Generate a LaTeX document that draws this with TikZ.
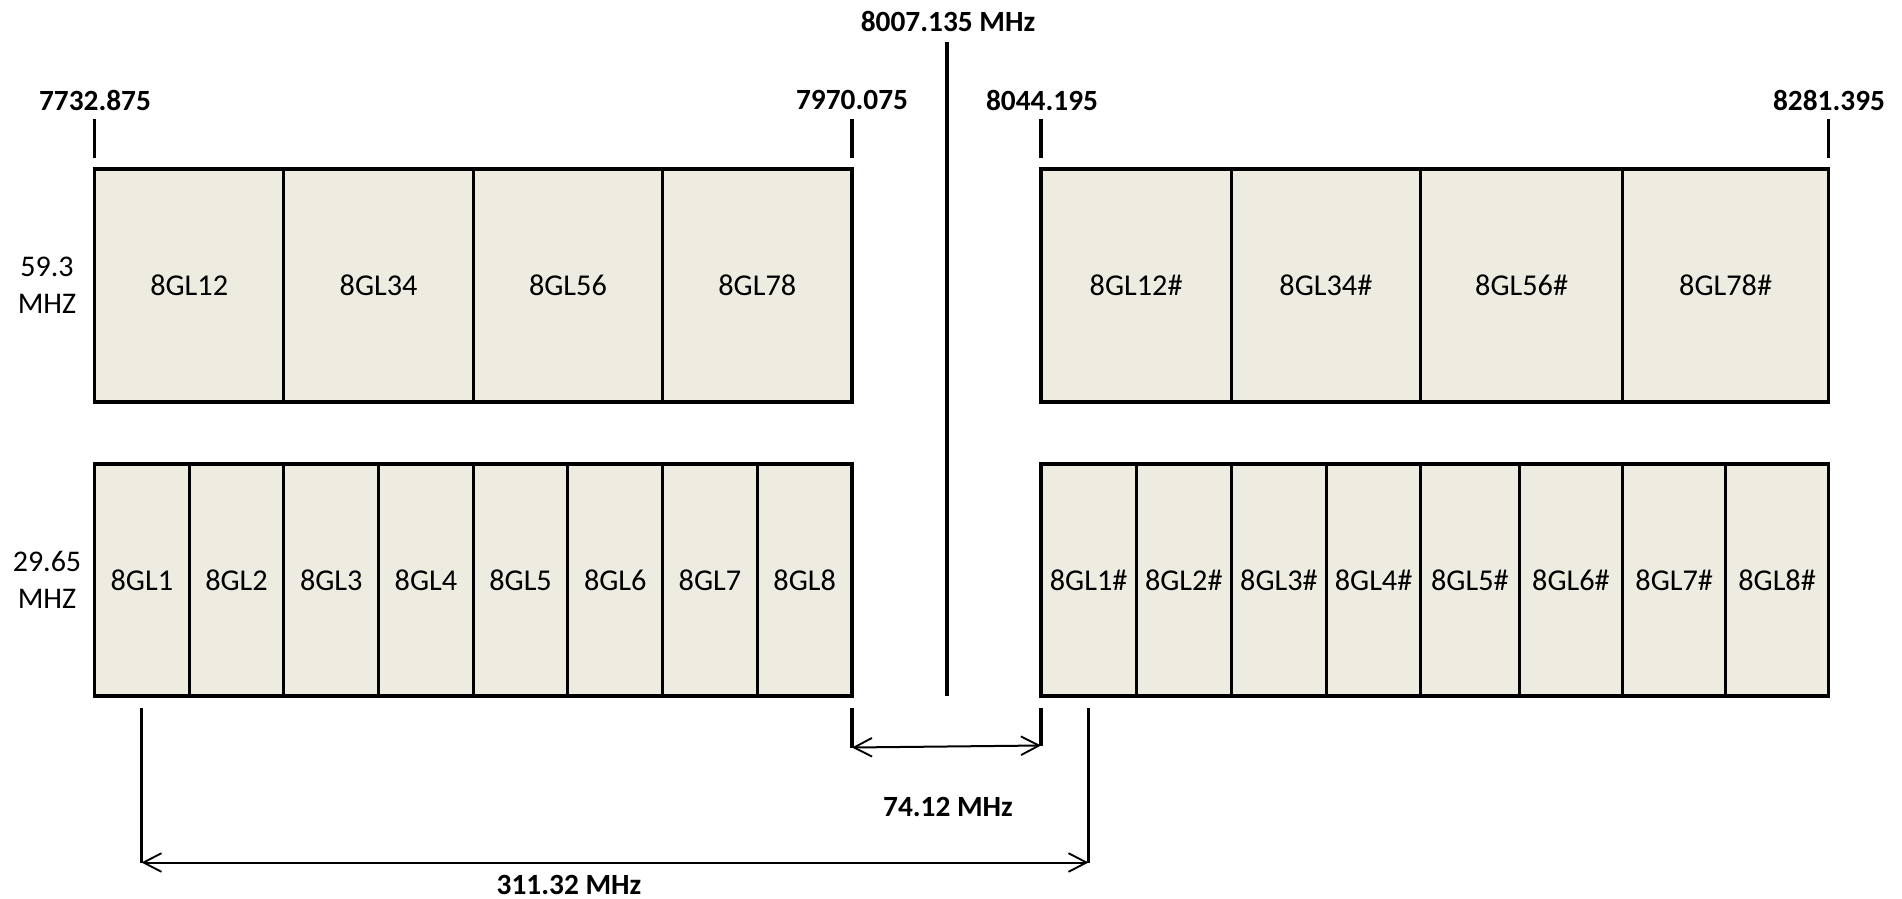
\documentclass[tikz,border=0pt]{standalone}
\usepackage{fontspec}
\setmainfont{Carlito}
\usetikzlibrary{arrows.meta}
\definecolor{cellfill}{HTML}{EEECE1}
\tikzset{
  cell/.style={draw=black, line width=2.3pt, fill=cellfill, inner sep=0pt,
    font=\fontsize{22.7}{27}\selectfont},
  tick/.style={line width=2.3pt},
  dimline/.style={line width=1.5pt, {Straight Barb[length=13.5pt,width=14pt,line width=1.4pt]}-{Straight Barb[length=13.5pt,width=14pt,line width=1.4pt]}},
  freq/.style={font=\fontsize{22}{26}\selectfont\bfseries, inner sep=0pt},
  side/.style={font=\fontsize{22.5}{27.5}\selectfont, align=center, inner sep=0pt}
}
% \gcell{name}{x1}{x2}{y1}{y2}{text}
\newcommand\gcell[6]{%
  \node[cell, minimum width={0.75pt*(#3-#2)}, minimum height={0.75pt*(#5-#4)}]
    (#1) at ({(#2+#3)/2},{(#4+#5)/2}) {#6};}
\begin{document}
\begin{tikzpicture}[x=0.75pt,y=-0.75pt]
\useasboundingbox (0,0) rectangle (1902,899);
% top left row
\gcell{a12}{94.5}{283.9}{169}{402}{8GL12}
\gcell{a34}{283.9}{473.25}{169}{402}{8GL34}
\gcell{a56}{473.25}{662.6}{169}{402}{8GL56}
\gcell{a78}{662.6}{852}{169}{402}{8GL78}
% bottom left row
\gcell{b1}{94.5}{189.2}{464}{696}{8GL1}
\gcell{b2}{189.2}{283.9}{464}{696}{8GL2}
\gcell{b3}{283.9}{378.6}{464}{696}{8GL3}
\gcell{b4}{378.6}{473.25}{464}{696}{8GL4}
\gcell{b5}{473.25}{567.9}{464}{696}{8GL5}
\gcell{b6}{567.9}{662.6}{464}{696}{8GL6}
\gcell{b7}{662.6}{757.3}{464}{696}{8GL7}
\gcell{b8}{757.3}{852}{464}{696}{8GL8}
% top right row
\gcell{c12}{1041}{1231.3}{169}{402}{8GL12\#}
\gcell{c34}{1231.3}{1420.5}{169}{402}{8GL34\#}
\gcell{c56}{1420.5}{1622.7}{169}{402}{8GL56\#}
\gcell{c78}{1622.7}{1828.5}{169}{402}{8GL78\#}
% bottom right row
\gcell{d1}{1041}{1136.3}{464}{696}{8GL1\#}
\gcell{d2}{1136.3}{1231.3}{464}{696}{8GL2\#}
\gcell{d3}{1231.3}{1326.7}{464}{696}{8GL3\#}
\gcell{d4}{1326.7}{1420.5}{464}{696}{8GL4\#}
\gcell{d5}{1420.5}{1519.3}{464}{696}{8GL5\#}
\gcell{d6}{1519.3}{1622.7}{464}{696}{8GL6\#}
\gcell{d7}{1622.7}{1725.7}{464}{696}{8GL7\#}
\gcell{d8}{1725.7}{1828.5}{464}{696}{8GL8\#}
% frequency labels
\node[freq] (f1) at (95,100) {7732.875};
\node[freq] (f2) at (852,100) {7970.075};
\node[freq] (f3) at (1042,100) {8044.195};
\node[freq] (f4) at (1829,100) {8281.395};
\node[freq] (fc) at (948,21) {8007.135 MHz};
% side labels
\node[side] (s1) at (47,285.5) {59.3\\MHZ};
\node[side] (s2) at (47,580) {29.65\\MHZ};
% ticks
\coordinate (t1a) at (94.5,119);  \coordinate (t1b) at (94.5,158);
\coordinate (t2a) at (852,119);   \coordinate (t2b) at (852,158);
\coordinate (t3a) at (1041,119);  \coordinate (t3b) at (1041,158);
\coordinate (t4a) at (1828.5,119);\coordinate (t4b) at (1828.5,158);
\draw[tick] (t1a) -- (t1b);
\draw[tick] (t2a) -- (t2b);
\draw[tick] (t3a) -- (t3b);
\draw[tick] (t4a) -- (t4b);
% centre line
\coordinate (cl1) at (947,42); \coordinate (cl2) at (947,696);
\draw[tick] (cl1) -- (cl2);
% small dimension
\coordinate (g1a) at (852,708);  \coordinate (g1b) at (852,747.5);
\coordinate (g2a) at (1041,708); \coordinate (g2b) at (1041,745.5);
\draw[tick] (g1a) -- (g1b);
\draw[tick] (g2a) -- (g2b);
\draw[dimline] (g1b) -- (g2b);
\node[freq] (l74) at (948,807) {74.12 MHz};
% large dimension
\coordinate (h1a) at (141.5,708);  \coordinate (h1b) at (141.5,862.5);
\coordinate (h2a) at (1088.5,708); \coordinate (h2b) at (1088.5,862.5);
\draw[tick] (h1a) -- (h1b);
\draw[tick] (h2a) -- (h2b);
\draw[dimline] (h1b) -- (h2b);
\node[freq] (l311) at (569,885) {311.32 MHz};
\end{tikzpicture}
\end{document}
